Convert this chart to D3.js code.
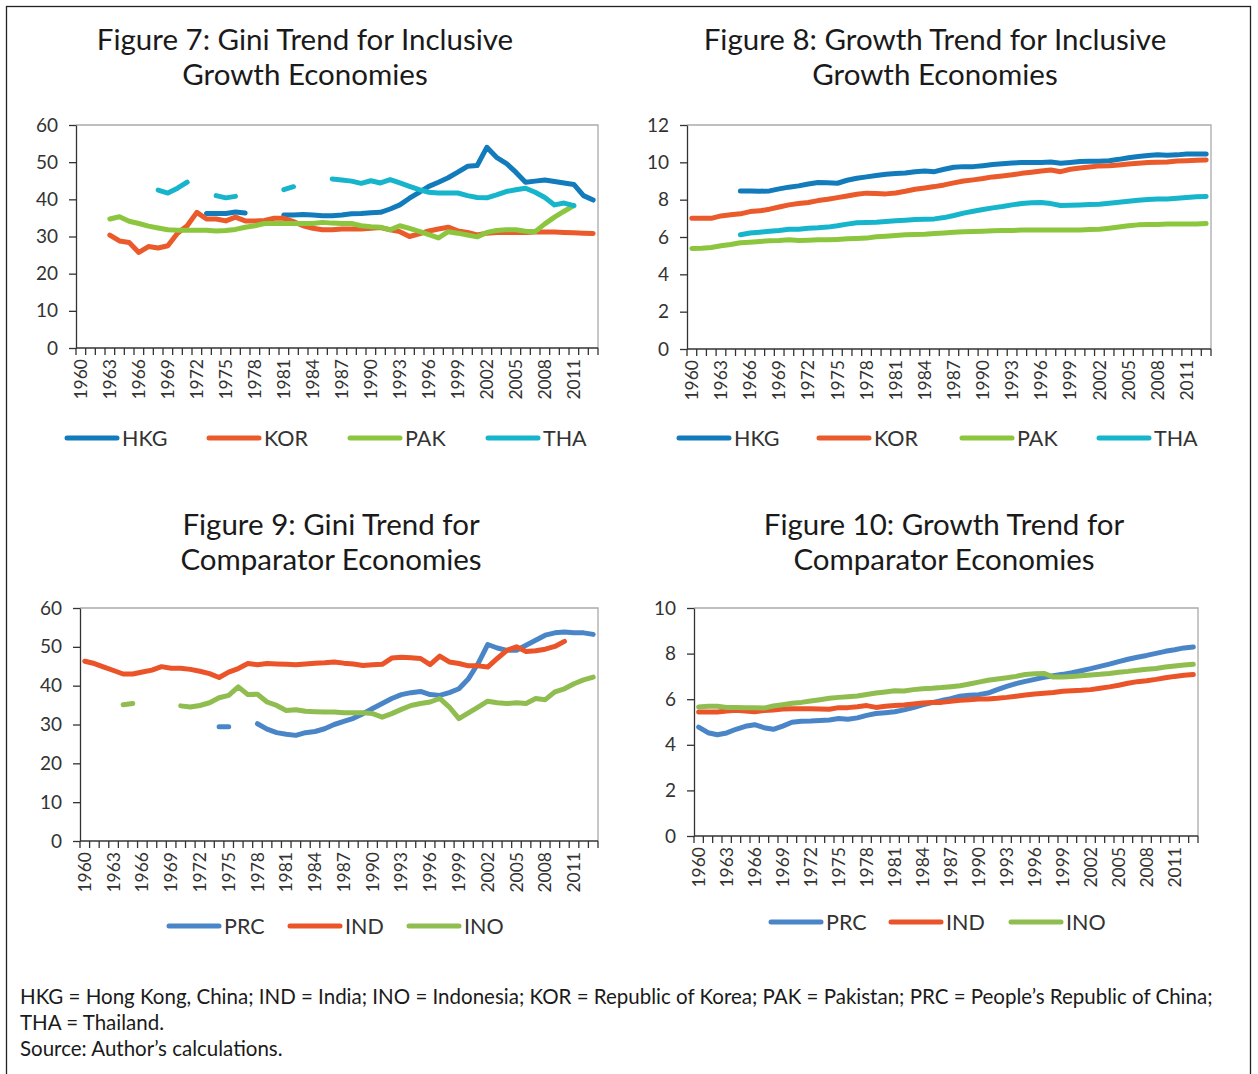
<!DOCTYPE html>
<meta charset="utf-8">
<style>
body { margin: 0; background: #fff; }
svg { font-family: Lato, "Open Sans", sans-serif; }
.title { font-size: 29.5px; fill: #1a1a1a; text-anchor: middle; }
.axis path, .axis line { stroke: #333; stroke-width: 1.3px; }
.frame { fill: none; stroke: #aaa; stroke-width: 1.3px; }
.legend text { font-size: 21.5px; fill: #333; }
.note { font-size: 20.5px; fill: #1a1a1a; }
.series { fill: none; stroke-width: 5px; stroke-linecap: round; stroke-linejoin: round; }
</style>
<body>
<div id="chart"></div>
<script src="https://cdn.jsdelivr.net/npm/d3@7"></script>
<script>
// categories
var years = d3.range(1960, 2014);
var yearLabels = years.filter(function(y) { return (y - 1960) % 3 === 0 && y <= 2011; });

// Figure 7: Gini, inclusive growth economies (null = no data)
var giniHKG = [null,null,null,null,null,null,null,null,null,null,null,null,null,36.2,36.2,36.2,36.6,36.3,null,null,
  null,35.8,35.8,35.9,35.8,35.6,35.6,35.8,36.1,36.2,36.4,36.5,37.4,38.5,40.3,41.9,43.5,44.6,45.8,47.3,
  48.9,49.1,54.0,51.3,49.7,47.3,44.6,44.9,45.2,44.8,44.4,44.0,41.0,39.8];
var giniKOR = [null,null,null,30.4,28.8,28.4,25.7,27.3,26.9,27.5,30.9,32.9,36.5,34.7,34.7,34.2,35.2,34.2,34.2,34.3,
  34.9,34.9,34.0,32.9,32.2,31.8,31.8,32.0,32.0,32.0,32.2,32.4,31.8,31.3,30.0,30.7,31.5,32.0,32.5,31.5,
  31.1,30.4,30.9,31.1,31.1,31.1,31.1,31.2,31.2,31.2,31.1,31.0,30.9,30.8];
var giniPAK = [null,null,null,34.7,35.3,34.1,33.5,32.8,32.3,31.8,31.7,31.7,31.7,31.7,31.5,31.6,31.9,32.5,32.9,33.5,
  33.5,33.5,33.5,33.5,33.5,33.8,33.6,33.5,33.5,32.9,32.6,32.5,31.8,32.9,32.2,31.4,30.5,29.6,31.3,30.9,
  30.4,29.9,31.1,31.6,31.8,31.8,31.4,31.3,33.4,35.2,36.8,38.3,null,null];
var giniTHA = [null,null,null,null,null,null,null,null,42.5,41.7,43.0,44.6,null,null,41.0,40.4,40.8,null,null,null,
  null,42.6,43.4,null,null,null,45.5,45.2,44.9,44.3,45.0,44.4,45.3,44.4,43.5,42.6,41.9,41.7,41.7,41.7,
  41.0,40.5,40.4,41.2,42.1,42.6,43.0,41.9,40.5,38.5,39.0,38.3,null,null];

// Figure 8: growth, inclusive growth economies
var growHKG = [null,null,null,null,null,8.47,8.47,8.45,8.47,8.58,8.67,8.74,8.84,8.92,8.90,8.88,9.04,9.15,9.22,9.29,
  9.36,9.40,9.43,9.50,9.54,9.50,9.63,9.74,9.77,9.77,9.82,9.88,9.93,9.97,9.99,9.99,9.99,10.02,9.95,9.99,
  10.04,10.06,10.06,10.09,10.16,10.25,10.31,10.36,10.40,10.38,10.40,10.45,10.45,10.45];
var growKOR = [7.00,7.00,7.00,7.13,7.19,7.24,7.36,7.40,7.49,7.61,7.72,7.79,7.85,7.95,8.02,8.11,8.20,8.29,8.35,8.33,
  8.31,8.36,8.45,8.56,8.63,8.70,8.79,8.90,9.00,9.06,9.13,9.22,9.27,9.33,9.41,9.47,9.54,9.59,9.50,9.63,
  9.70,9.75,9.81,9.82,9.86,9.91,9.95,9.99,10.00,10.02,10.07,10.09,10.11,10.13];
var growPAK = [5.39,5.40,5.44,5.53,5.60,5.69,5.72,5.76,5.80,5.81,5.85,5.81,5.83,5.85,5.85,5.87,5.90,5.92,5.94,6.01,
  6.04,6.08,6.12,6.13,6.15,6.19,6.22,6.26,6.28,6.29,6.31,6.33,6.35,6.35,6.37,6.38,6.37,6.37,6.37,6.38,
  6.38,6.40,6.42,6.47,6.53,6.60,6.65,6.67,6.67,6.69,6.69,6.69,6.70,6.72];
var growTHA = [null,null,null,null,null,6.12,6.21,6.26,6.31,6.35,6.42,6.42,6.47,6.49,6.53,6.60,6.69,6.76,6.78,6.79,
  6.83,6.87,6.90,6.94,6.95,6.97,7.04,7.15,7.28,7.38,7.47,7.56,7.63,7.72,7.79,7.83,7.85,7.79,7.69,7.70,
  7.72,7.74,7.76,7.81,7.86,7.92,7.97,8.01,8.04,8.04,8.08,8.11,8.15,8.17];

// Figure 9: Gini, comparator economies
var giniPRC = [null,null,null,null,null,null,null,null,null,null,null,null,null,null,29.4,29.4,null,null,30.2,28.8,
  27.9,27.5,27.2,27.9,28.2,28.9,30.0,30.8,31.6,32.8,34.1,35.4,36.7,37.7,38.2,38.5,37.7,37.5,38.2,39.2,
  41.8,45.7,50.6,49.7,49.1,49.1,50.4,51.7,53.0,53.6,53.8,53.6,53.6,53.2];
var giniIND = [46.3,45.7,44.8,43.9,43.0,43.0,43.5,44.0,44.9,44.5,44.5,44.2,43.7,43.1,42.1,43.5,44.4,45.7,45.4,45.7,
  45.6,45.5,45.4,45.6,45.8,45.9,46.1,45.8,45.6,45.2,45.4,45.5,47.1,47.3,47.2,47.0,45.4,47.6,46.1,45.7,
  45.1,45.1,44.8,47.0,49.1,50.0,48.8,49.0,49.4,50.1,51.4,null,null,null];
var giniINO = [null,null,null,null,35.1,35.4,null,null,null,null,34.8,34.5,34.9,35.6,36.9,37.5,39.7,37.7,37.8,35.8,
  34.9,33.6,33.8,33.4,33.3,33.2,33.2,33.0,33.0,33.0,32.8,31.9,32.8,33.9,34.9,35.4,35.8,36.7,34.5,31.5,
  33.0,34.5,36.0,35.6,35.4,35.6,35.4,36.7,36.4,38.4,39.2,40.5,41.5,42.2];

// Figure 10: growth, comparator economies
var growPRC = [4.78,4.53,4.44,4.52,4.68,4.81,4.88,4.75,4.68,4.82,4.99,5.03,5.04,5.07,5.09,5.15,5.12,5.18,5.29,5.37,
  5.41,5.45,5.53,5.63,5.75,5.85,5.94,6.02,6.13,6.17,6.20,6.27,6.42,6.56,6.68,6.78,6.87,6.96,7.03,7.09,
  7.16,7.25,7.34,7.44,7.54,7.65,7.75,7.84,7.92,8.01,8.10,8.17,8.25,8.29];
var growIND = [5.44,5.44,5.44,5.48,5.51,5.48,5.45,5.50,5.53,5.57,5.58,5.58,5.58,5.57,5.56,5.63,5.63,5.67,5.72,5.64,
  5.69,5.72,5.75,5.79,5.83,5.85,5.86,5.91,5.95,5.98,6.01,6.01,6.04,6.08,6.13,6.18,6.23,6.26,6.29,6.35,
  6.37,6.39,6.42,6.48,6.54,6.61,6.70,6.77,6.81,6.87,6.94,7.00,7.05,7.08];
var growINO = [5.66,5.69,5.69,5.64,5.64,5.63,5.63,5.61,5.70,5.76,5.82,5.86,5.92,5.98,6.04,6.08,6.11,6.14,6.21,6.27,
  6.32,6.37,6.36,6.42,6.46,6.48,6.51,6.55,6.59,6.67,6.75,6.83,6.89,6.94,7.00,7.08,7.12,7.13,6.97,6.97,
  7.00,7.03,7.06,7.09,7.13,7.18,7.22,7.27,7.31,7.35,7.41,7.46,7.50,7.53];

var colors = {HKG: "#127bbb", KOR: "#ea5a2b", PAK: "#8cc63f", THA: "#17b5cb",
              PRC: "#4a86c7", IND: "#ea5428", INO: "#8fbd50"};

var panels = [
  {title: ["Figure 7: Gini Trend for Inclusive", "Growth Economies"], cx: 305, ty: 40,
   left: 76, right: 598, top: 125, bottom: 348, max: 60, step: 10,
   series: [["HKG", giniHKG], ["KOR", giniKOR], ["PAK", giniPAK], ["THA", giniTHA]],
   legendY: 438, legendX: [65, 207, 348, 486]},
  {title: ["Figure 8: Growth Trend for Inclusive", "Growth Economies"], cx: 935, ty: 40,
   left: 687, right: 1211, top: 125, bottom: 349, max: 12, step: 2,
   series: [["HKG", growHKG], ["KOR", growKOR], ["PAK", growPAK], ["THA", growTHA]],
   legendY: 438, legendX: [677, 817, 960, 1097]},
  {title: ["Figure 9: Gini Trend for", "Comparator Economies"], cx: 331, ty: 525,
   left: 80, right: 598, top: 608, bottom: 841, max: 60, step: 10,
   series: [["PRC", giniPRC], ["IND", giniIND], ["INO", giniINO]],
   legendY: 926, legendX: [167, 288, 407]},
  {title: ["Figure 10: Growth Trend for", "Comparator Economies"], cx: 944, ty: 525,
   left: 694, right: 1198, top: 608, bottom: 836, max: 10, step: 2,
   series: [["PRC", growPRC], ["IND", growIND], ["INO", growINO]],
   legendY: 922, legendX: [769, 889, 1009]}
];

var svg = d3.select("#chart").append("svg")
    .attr("width", 1258)
    .attr("height", 1074);

// outer box
svg.append("rect")
    .attr("x", 6.5).attr("y", 6.5)
    .attr("width", 1244).attr("height", 1100)
    .attr("fill", "none").attr("stroke", "#222").attr("stroke-width", 1.3);

panels.forEach(function(p) {
  var g = svg.append("g");

  g.selectAll(".title")
      .data(p.title).enter()
    .append("text")
      .attr("class", "title")
      .attr("x", p.cx)
      .attr("y", function(d, i) { return p.ty + i * 35; })
      .attr("dy", "0.35em")
      .text(function(d) { return d; });

  var x = d3.scaleBand().domain(years).range([p.left, p.right]);
  var y = d3.scaleLinear().domain([0, p.max]).range([p.bottom, p.top]);

  // light frame on top and right
  g.append("path")
      .attr("class", "frame")
      .attr("d", "M" + p.left + "," + p.top + "H" + p.right + "V" + p.bottom);

  g.append("g")
      .attr("class", "axis")
      .attr("transform", "translate(" + p.left + ",0)")
      .call(d3.axisLeft(y).tickValues(d3.range(0, p.max + 0.01, p.step)).tickSize(7).tickPadding(11).tickSizeOuter(0))
      .call(function(a) {
        a.selectAll("text").attr("font-family", "Lato").attr("font-size", 19).attr("fill", "#333");
      });

  // x axis: ticks at category boundaries, labels every third year
  var xa = g.append("g")
      .attr("class", "axis")
      .attr("transform", "translate(0," + p.bottom + ")");
  xa.append("path").attr("d", "M" + p.left + ",0H" + p.right);
  xa.selectAll("line")
      .data(years.concat([null])).enter()
    .append("line")
      .attr("x1", function(d, i) { return p.left + i * x.bandwidth(); })
      .attr("x2", function(d, i) { return p.left + i * x.bandwidth(); })
      .attr("y1", 0).attr("y2", 7);
  xa.selectAll("text")
      .data(yearLabels).enter()
    .append("text")
      .attr("transform", function(d) {
        return "translate(" + (x(d) + x.bandwidth() / 2) + ",11) rotate(-90)";
      })
      .attr("text-anchor", "end")
      .attr("dy", "0.35em")
      .attr("font-size", 17.5)
      .attr("fill", "#333")
      .text(function(d) { return d; });

  var line = d3.line()
      .defined(function(d) { return d != null; })
      .x(function(d, i) { return x(years[i]) + x.bandwidth() / 2; })
      .y(function(d) { return y(d); });

  g.selectAll(".series")
      .data(p.series).enter()
    .append("path")
      .attr("class", "series")
      .attr("stroke", function(d) { return colors[d[0]]; })
      .attr("d", function(d) { return line(d[1]); });

  var lg = g.selectAll(".legend")
      .data(p.series).enter()
    .append("g")
      .attr("class", "legend")
      .attr("transform", function(d, i) { return "translate(" + p.legendX[i] + "," + p.legendY + ")"; });
  lg.append("line")
      .attr("x1", 2).attr("x2", 52)
      .attr("stroke", function(d) { return colors[d[0]]; })
      .attr("stroke-width", 5)
      .attr("stroke-linecap", "round");
  lg.append("text")
      .attr("x", 57)
      .attr("dy", "0.35em")
      .text(function(d) { return d[0]; });
});

var notes = [
  "HKG = Hong Kong, China; IND = India; INO = Indonesia; KOR = Republic of Korea; PAK = Pakistan; PRC = People\u2019s Republic of China;",
  "THA = Thailand.",
  "Source: Author\u2019s calculations."
];
svg.selectAll(".note")
    .data(notes).enter()
  .append("text")
    .attr("class", "note")
    .attr("x", 20)
    .attr("y", function(d, i) { return 997 + i * 26; })
    .attr("dy", "0.35em")
    .text(function(d) { return d; });
</script>
</body>
